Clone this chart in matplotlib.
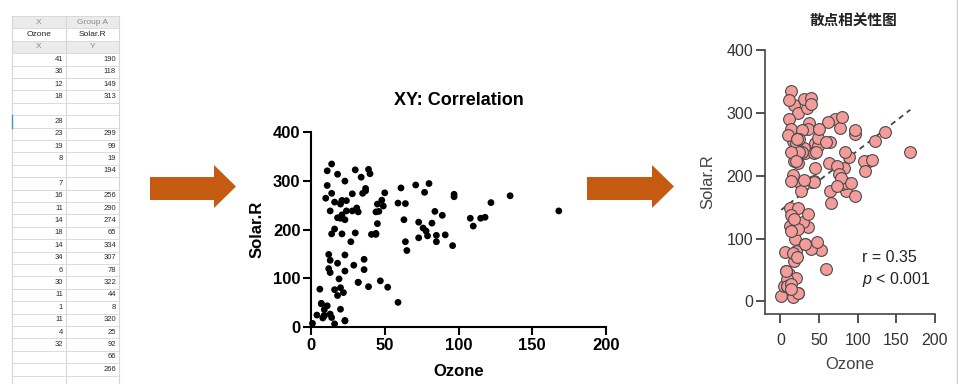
import numpy as np
import matplotlib
matplotlib.use("Agg")
import matplotlib.pyplot as plt
from matplotlib.patches import Polygon, Rectangle

# airquality: Ozone / Solar.R (None = NA)
ozone = [41, 36, 12, 18, None, 28, 23, 19, 8, None, 7, 16, 11, 14, 18, 14, 34, 6, 30, 11, 1, 11, 4, 32, None, None, None, 23, 45, 115, 37,
         None, None, None, None, None, None, 29, None, 71, 39, None, None, 23, None, None, 21, 37, 20, 12, 13, None, None, None, None, None, None, None, None, None, None,
         135, 49, 32, None, 64, 40, 77, 97, 97, 85, None, 10, 27, None, 7, 48, 35, 61, 79, 63, 16, None, None, 80, 108, 20, 52, 82, 50, 64, 59,
         39, 9, 16, 78, 35, 66, 122, 89, 110, None, None, 44, 28, 65, None, 22, 59, 23, 31, 44, 21, 9, None, 45, 168, 73, None, 76, 118, 84, 85,
         96, 78, 73, 91, 47, 32, 20, 23, 21, 24, 44, 21, 28, 9, 13, 46, 18, 13, 24, 16, 13, 23, 36, 7, 14, 30, None, 14, 18, 20]
solar_r = [190, 118, 149, 313, None, None, 299, 99, 19, 194, None, 256, 290, 274, 65, 334, 307, 78, 322, 44, 8, 320, 25, 92, 66, 266, None, 13, 252, 223, 279,
           286, 287, 242, 186, 220, 264, 127, 273, 291, 323, 259, 250, 148, 332, 322, 191, 284, 37, 120, 137, 150, 59, 91, 250, 135, 127, 47, 98, 31, 138,
           269, 248, 236, 101, 175, 314, 276, 267, 272, 175, 139, 264, 175, 291, 48, 260, 274, 285, 187, 220, 7, 258, 295, 294, 223, 81, 82, 213, 275, 253, 254,
           83, 24, 77, None, None, None, 255, 229, 207, 222, 137, 192, 273, 157, 64, 71, 51, 115, 244, 190, 259, 36, 255, 212, 238, 215, 153, 203, 225, 237, 188,
           167, 197, 183, 189, 95, 92, 252, 220, 230, 259, 236, 259, 238, 24, 112, 237, 224, 27, 238, 201, 238, 14, 139, 49, 20, 193, 145, 191, 131, 223]

header_rows = [["X", "Group A"], ["Ozone", "Solar.R"], ["X", "Y"]]
n_table_rows = 26

x_ticks = [0, 50, 100, 150, 200]
y_ticks = [0, 100, 200, 300, 400]

pairs = [(o, s) for o, s in zip(ozone, solar_r) if o is not None and s is not None]
xs = np.array([p[0] for p in pairs], dtype=float)
ys = np.array([p[1] for p in pairs], dtype=float)
r = np.corrcoef(xs, ys)[0, 1]
slope, icpt = np.polyfit(xs, ys, 1)

plt.rcParams['font.family'] = ['Liberation Sans', 'DejaVu Sans']
plt.rcParams['mathtext.fontset'] = 'custom'
plt.rcParams['mathtext.rm'] = 'Liberation Sans'
plt.rcParams['mathtext.it'] = 'Liberation Sans:italic'

W, H = 958, 384
fig = plt.figure(figsize=(W / 100, H / 100), dpi=100)

def px_axes(x0, x1, y0, y1):
    # pixel box (top-left origin) -> figure fraction
    return [x0 / W, 1 - y1 / H, (x1 - x0) / W, (y1 - y0) / H]

# ---- overlay: table, arrows (drawn on top, transparent) ----
ov = fig.add_axes([0, 0, 1, 1], zorder=5)
ov.set_xlim(0, W)
ov.set_ylim(H, 0)
ov.axis('off')
ov.patch.set_alpha(0)

tx0, tx1, tx2 = 12, 66, 119
top, rh = 16, 12.4
gray_line = '#d6d6d6'
for i, (a, b) in enumerate(header_rows):
    y = top + i * rh
    bg = '#ebebeb' if i != 1 else 'white'
    ov.add_patch(Rectangle((tx0, y), tx2 - tx0, rh, fc=bg, ec='none'))
    col = '#8a8a8a' if i != 1 else '#222222'
    ov.text((tx0 + tx1) / 2, y + rh / 2, a, ha='center', va='center', fontsize=6, color=col)
    ov.text((tx1 + tx2) / 2, y + rh / 2, b, ha='center', va='center', fontsize=6, color=col)
y_data0 = top + 3 * rh
for i in range(n_table_rows):
    y = y_data0 + i * rh
    o, s = ozone[i], solar_r[i]
    if o is not None:
        ov.text(tx1 - 3, y + rh / 2, str(o), ha='right', va='center', fontsize=5.5, color='#2a2a2a')
    if s is not None:
        ov.text(tx2 - 3, y + rh / 2, str(s), ha='right', va='center', fontsize=5.5, color='#2a2a2a')
for i in range(n_table_rows + 4):
    y = top + i * rh
    ov.plot([tx0, tx2], [y, y], color=gray_line, lw=0.6)
for x in (tx0, tx1, tx2):
    ov.plot([x, x], [top, H], color=gray_line, lw=0.8)
ov.plot([tx0, tx0], [y_data0 + 5 * rh, y_data0 + 6 * rh], color='#4a90d9', lw=1)

arrow_col = '#c55a11'
for x_tail, x_base, x_tip in [(150, 214, 236), (587, 652, 674)]:
    pts = [(x_tail, 177), (x_base, 177), (x_base, 165), (x_tip, 186.5),
           (x_base, 208), (x_base, 200), (x_tail, 200)]
    ov.add_patch(Polygon(pts, closed=True, fc=arrow_col, ec='none'))

ov.plot([957, 957], [0, H], color='#cfcfcf', lw=1)

# ---- middle chart ----
ax1 = fig.add_axes(px_axes(311, 606, 131.7, 327.3))
ax1.patch.set_alpha(0)
ax1.scatter(xs, ys, s=24, color='black', edgecolors='none', clip_on=False, zorder=3)
ax1.set_xlim(0, 200)
ax1.set_ylim(0, 400)
ax1.set_xticks(x_ticks)
ax1.set_yticks(y_ticks)
for sp in ['top', 'right']:
    ax1.spines[sp].set_visible(False)
for sp in ['left', 'bottom']:
    ax1.spines[sp].set_linewidth(1.5)
ax1.tick_params(width=1.5, length=5.5, pad=2, labelsize=12)
for lab in ax1.get_xticklabels() + ax1.get_yticklabels():
    lab.set_fontweight('bold')
ax1.set_xlabel('Ozone', fontsize=12, fontweight='bold', labelpad=8)
ax1.set_ylabel('Solar.R', fontsize=12, fontweight='bold', labelpad=6)
ax1.set_title('XY: Correlation', fontsize=13, fontweight='bold', pad=19)

# ---- right chart ----
ax2 = fig.add_axes(px_axes(765, 935, 50, 314))
ax2.patch.set_alpha(0)
ax2.scatter(xs, ys, s=72, facecolor='#f39c9a', edgecolors='#4a4a4a', linewidths=0.8,
            clip_on=False, zorder=3)
line_x = np.array([xs.min(), xs.max()])
ax2.plot(line_x, icpt + slope * line_x, ls=(0, (3, 2.5)), color='#444444', lw=1.3, zorder=2)
ax2.set_xlim(-20, 200)
ax2.set_ylim(-20, 400)
ax2.set_xticks(x_ticks)
ax2.set_yticks(y_ticks)
for sp in ['top', 'right']:
    ax2.spines[sp].set_visible(False)
for sp in ['left', 'bottom']:
    ax2.spines[sp].set_linewidth(1.2)
    ax2.spines[sp].set_color('#444444')
ax2.tick_params(width=1.2, length=6.5, pad=2, labelsize=11.5, colors='#333333')
ax2.tick_params(axis='x', pad=7)
ax2.set_xlabel('Ozone', fontsize=12, color='#444444', labelpad=7)
ax2.set_ylabel('Solar.R', fontsize=12, color='#444444', labelpad=8)
ax2.text(0.57, 0.215, f'r = {r:.2f}', transform=ax2.transAxes, fontsize=11.5, color='#222222', va='center')
ax2.text(0.57, 0.13, r'$p$ < 0.001', transform=ax2.transAxes, fontsize=11.5, color='#222222', va='center')
fig.text(853 / W, 1 - 21 / H, '散点相关性图', ha='center', va='center', fontsize=10.5,
         fontweight='bold', family=['Noto Sans CJK SC', 'DejaVu Sans'], color='#222222')

fig.savefig('out.png', dpi=100)
